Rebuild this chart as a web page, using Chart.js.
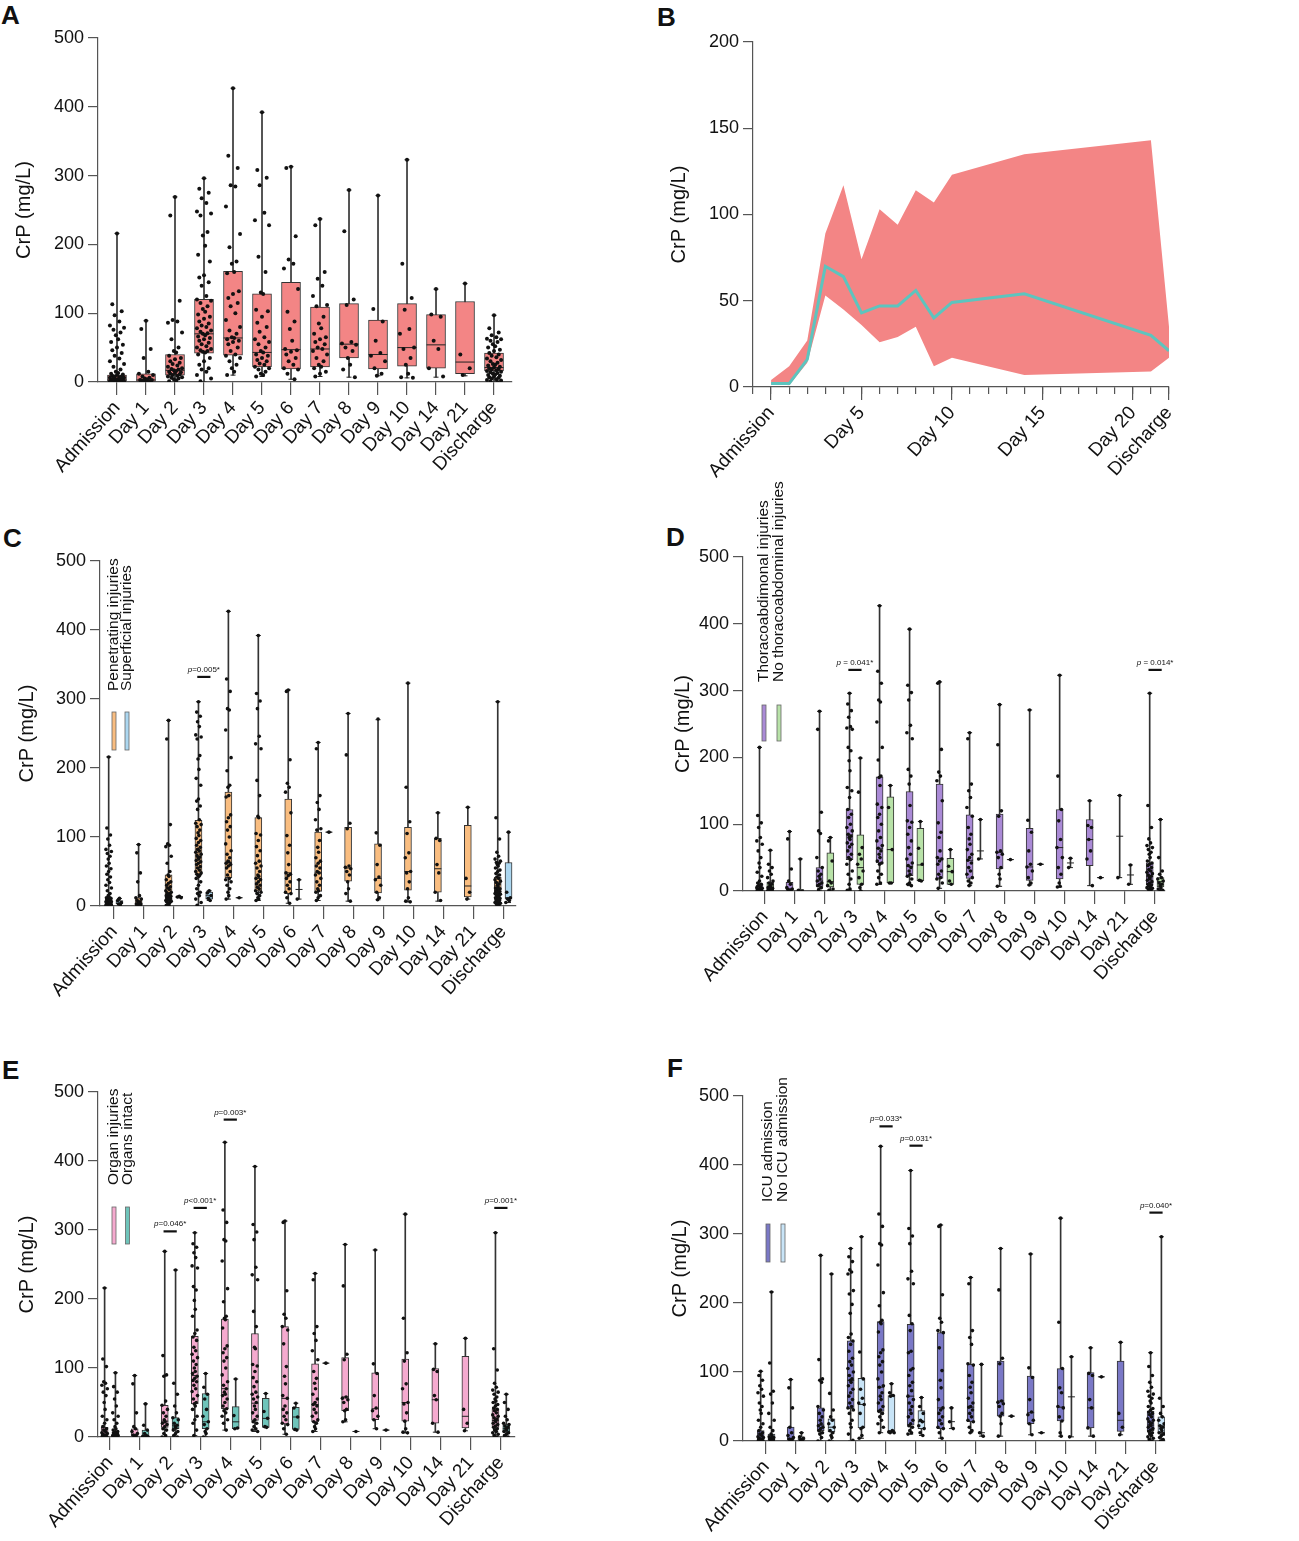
<!DOCTYPE html>
<html>
<head>
<meta charset="utf-8">
<script src="https://cdn.jsdelivr.net/npm/chart.js@4.4.0/dist/chart.umd.min.js"></script>
<style>
  body { margin: 0; background: #fff; width: 1299px; height: 1541px; position: relative; overflow: hidden; font-family: 'Liberation Sans', Arial, sans-serif; }
  canvas { position: absolute; }
  .tag { position: absolute; font-weight: bold; font-size: 26px; line-height: 26px; color: #111; }
</style>
</head>
<body>
<div class="tag" style="left:1px;top:2px">A</div>
<div class="tag" style="left:657px;top:4px">B</div>
<div class="tag" style="left:3px;top:525px">C</div>
<div class="tag" style="left:666px;top:524px">D</div>
<div class="tag" style="left:2px;top:1057px">E</div>
<div class="tag" style="left:667px;top:1055px">F</div>

<canvas id="pA" width="650" height="500" style="left:0;top:0"></canvas>
<canvas id="pB" width="649" height="500" style="left:650px;top:0"></canvas>
<canvas id="pC" width="650" height="510" style="left:0;top:510px"></canvas>
<canvas id="pD" width="649" height="540" style="left:650px;top:480px"></canvas>
<canvas id="pE" width="650" height="491" style="left:0;top:1050px"></canvas>
<canvas id="pF" width="649" height="491" style="left:650px;top:1050px"></canvas>

<script>
// Catégories communes
const categories = ["Admission", "Day 1", "Day 2", "Day 3", "Day 4", "Day 5", "Day 6", "Day 7", "Day 8", "Day 9", "Day 10", "Day 14", "Day 21", "Discharge"];

// Panneau A : boîtes [min, q1, médiane, q3, max] et points
const aBox = [[0,1,3,10,216],[0,1,3,12,89],[0,10,17,40,269],[0,42,70,120,296],[10,39,64,161,427],[8,22,43,128,392],[4,19,47,145,313],[8,22,48,109,237],[7,35,55,114,279],[9,19,40,90,271],[6,23,50,114,323],[7,20,54,98,135],[9,12,29,117,143],[0,16,21,42,97]];
const aDots = [
  [216,113,103,97,88,82,79,76,72,68,62,58,54,50,46,42,38,34,30,26,22,18,15,13,12,11,10,9,8,8,7,6,6,5,5,4,4,3,3,3,2,2,2,1,1,1,1,0,0,0,0],
  [89,77,48,35,15,12,10,8,6,5,4,3,3,2,2,1,1,0],
  [269,242,118,90,88,86,72,62,50,45,43,38,35,33,30,28,26,24,22,20,19,18,17,16,15,14,13,12,11,10,9,8,7,6,5,4,2,1],
  [296,281,275,267,260,248,245,242,218,213,198,185,175,155,152,145,140,125,120,118,115,110,106,102,98,95,92,88,85,82,80,78,75,73,71,70,68,66,64,62,60,57,55,52,50,48,46,45,44,43,40,35,30,25,20,18,15,10,5,1],
  [427,329,311,286,284,255,215,196,175,172,160,158,132,128,122,115,110,100,90,80,75,70,65,64,62,60,58,55,50,45,40,38,35,30,25,20,15,10],
  [392,308,297,286,246,235,228,182,160,130,128,105,103,95,86,80,73,65,62,58,55,50,45,43,40,38,35,32,30,27,25,22,20,18,15,12,10,8],
  [313,311,212,178,172,165,135,102,88,77,60,48,46,44,40,35,30,25,20,18,12,4],
  [237,228,160,150,140,125,112,110,95,85,78,70,65,62,58,55,50,48,45,40,35,30,25,22,20,15,12,8],
  [279,219,120,112,58,56,54,50,45,35,25,18,7],
  [271,106,88,60,42,38,30,20,12,9],
  [323,172,122,105,77,70,50,48,35,25,12,7,6],
  [135,98,95,60,48,20,8],
  [143,40,20,10],
  [97,78,72,68,65,63,62,60,58,55,52,50,47,45,42,40,38,36,34,32,30,28,26,25,24,22,21,20,19,18,17,16,15,14,13,12,11,10,9,8,7,6,5,4,3,2,1,0]
];

// Panneau B : médiane et intervalle
const bDays = [0, 1, 2, 3, 4, 5, 6, 7, 8, 9, 10, 14, 21, 22];
const bMedian = [2, 2, 16, 70, 64, 43, 47, 47, 56, 40, 49, 54, 30, 21];
const bUpper = [4, 12, 27, 89, 117, 74, 103, 94, 114, 107, 123, 135, 143, 35];
const bLower = [2, 1, 14, 53, 45, 36, 26, 29, 35, 12, 17, 7, 9, 17];
const bTicks = [0, 5, 10, 15, 20, 22];
const bTickLabels = ["Admission", "Day 5", "Day 10", "Day 15", "Day 20", "Discharge"];

// Panneau C : lésions pénétrantes / superficielles
const cBox1 = [[0,0,3,12,216],[0,0,3,12,89],[0,5,15,45,269],[0,45,77,124,296],[10,41,63,165,427],[8,22,40,128,392],[4,18,48,155,313],[8,21,48,107,237],[7,36,55,114,279],[9,19,40,90,270],[6,23,50,114,323],[7,20,54,98,135],[10,13,29,117,143],[0,16,21,42,296]];
const cDischarge1 = [296,128,97,78,72,68,65,63,62,60,58,55,52,50,47,45,42,40,38,36,34,32,30,28,26,25,24,22,21,20,19,18,17,16,15,14,13,12,11,10,9,8,7,6,5,4,3,2,1,0];
const cDots1 = aDots.slice(0, 13).concat([cDischarge1]);
const cBox2 = [[2,3,4,8,11],null,[12,12,13,14,14],[8,10,15,20,22],[12,12,12,12,12],null,[10,24,24,24,38],[107,107,107,107,107],null,null,null,null,null,[5,10,12,63,107]];
const cDots2 = [[11,8,5,3,2],[],[14,13,12],[22,19,15,11,8],[12],[],[38,10],[107],[],[],[],[],[],[107,20,12,10,8,5]];

// Panneau D : lésions thoraco-abdominales
const dBox1 = [[0,0,2,9,215],[0,0,3,13,89],[0,7,15,35,269],[1,47,84,122,296],[10,42,64,171,427],[8,23,37,149,392],[4,19,49,160,313],[8,19,46,114,237],[7,33,58,115,279],[9,16,36,94,271],[6,18,65,122,323],[8,38,77,107,135],[20,82,82,82,143],[0,9,22,42,296]];
const dDots1 = [
  [215,113,102,95,80,75,70,60,50,42,35,28,22,15,12,10,8,6,5,4,3,2,2,1,1,0,0,0],
  [89,78,33,15,10,5,3,2,1,0],
  [269,242,118,90,86,50,35,30,25,22,18,15,12,10,8,5,2],
  [296,280,270,260,246,244,242,215,210,195,180,155,150,140,122,115,110,100,95,90,85,82,80,77,72,70,66,60,55,50,47,40,30,25,18,10,3,1],
  [427,329,311,286,283,253,215,196,172,170,158,130,125,115,110,100,90,80,75,68,64,60,55,50,45,42,40,30,25,20,12,10],
  [392,308,297,286,248,237,228,182,172,160,128,105,103,95,85,75,65,55,48,42,38,35,30,25,22,18,12,10,8],
  [313,311,212,178,172,165,135,102,88,80,60,50,48,45,40,30,25,20,18,12,4],
  [237,228,160,150,140,125,112,95,85,78,70,62,55,50,46,42,35,30,25,20,15,12,8],
  [279,219,120,112,60,58,55,50,35,25,18,7],
  [271,106,88,60,40,36,30,20,12,9],
  [323,172,122,105,77,65,50,35,25,12,7,6],
  [135,98,95,77,60,48,8],
  [143,20],
  [296,128,95,78,72,68,65,62,58,55,50,45,42,40,38,35,32,30,28,26,24,22,20,18,16,14,12,10,9,8,6,5,4,3,2,1,0]
];
const dBox2 = [[0,0,4,13,61],[0,0,1,2,48],[1,6,14,57,80],[0,10,35,84,199],[12,12,62,141,158],[15,15,39,94,104],[10,10,29,49,62],[48,60,60,60,107],[47,47,47,47,47],[40,40,40,40,40],[35,42,42,42,49],[20,20,20,20,20],[10,24,24,24,39],[0,6,14,20,107]];
const dDots2 = [[61,40,35,30,25,20,15,12,10,8,6,5,4,3,2,1,1,0,0],[48,1,0],[80,75,45,15,12,8,3,1],[199,148,65,55,48,40,30,20,10,5,0],[158,125,62,12,12],[104,64,40,16,15],[62,37,29,15,10],[107,48],[47],[40],[49,35],[20],[39,10],[107,50,30,25,20,18,15,12,10,8,5,3,1,0]];

// Panneau E : lésions d'organes
const eBox1 = [[0,0,3,14,216],[0,0,3,12,89],[0,14,23,46,269],[2,48,89,146,296],[10,41,70,171,427],[8,24,49,150,392],[4,19,56,160,313],[8,22,47,106,237],[22,38,58,115,279],[12,25,41,93,271],[6,23,50,113,323],[7,20,54,99,135],[9,13,30,117,143],[0,14,24,41,296]];
const eDots1 = [
  [216,113,102,80,78,75,70,65,60,50,40,30,25,20,15,12,10,8,6,5,4,3,2,1,1,0,0],
  [89,77,35,15,12,8,5,3,2,1,0],
  [269,118,90,88,52,46,40,35,30,25,22,20,18,15,12,10,5,2,0],
  [296,280,275,267,260,248,245,218,213,198,185,175,155,150,145,140,130,125,120,115,110,105,100,95,92,88,85,82,80,75,70,66,60,55,50,48,45,40,30,25,20,10,2],
  [427,329,311,286,284,255,215,196,175,172,170,158,132,128,122,115,110,100,90,80,75,70,65,62,60,55,50,45,41,38,35,30,25,20,10],
  [392,308,297,286,246,235,228,182,160,130,128,105,103,95,86,80,73,65,62,58,55,50,45,40,35,30,25,22,20,15,12,10,8],
  [313,311,212,178,172,160,155,135,102,88,77,60,56,45,40,35,30,25,20,18,12,4],
  [237,228,160,150,140,125,112,95,85,78,70,62,55,50,47,45,40,35,30,25,22,20,15,12,8],
  [279,219,120,112,58,56,54,50,40,38,25,22],
  [271,106,92,60,42,38,30,25,12],
  [323,172,122,110,77,70,50,48,35,23,12,7,6],
  [135,98,95,60,54,20,7],
  [143,40,20,9],
  [296,128,97,78,72,68,65,62,58,55,52,50,47,45,42,40,38,35,32,30,28,26,24,22,20,18,16,14,12,10,8,6,4,2,0]
];
const eBox2 = [[0,0,2,7,93],[0,0,2,10,48],[0,12,17,28,242],[0,12,22,63,92],[12,12,22,44,84],[14,14,27,56,63],[10,11,29,43,49],[107,107,107,107,107],[8,8,8,8,8],[10,10,10,10,10],null,null,null,[0,7,12,18,62]];
const eDots2 = [[93,73,65,55,45,35,30,25,20,15,12,10,8,7,6,5,4,3,2,2,1,1,0,0],[48,17,10,5,2,1,0,0],[242,78,62,45,35,28,25,20,17,15,13,10,8,5,2,0],[92,72,62,55,40,30,22,18,12,8,5,0],[84,31,13,12],[63,37,27,15,14],[49,42,29,11,10],[107],[8],[10],[],[],[],[62,50,40,30,25,20,18,16,14,12,10,8,6,4,2,0]];

// Panneau F : admission en réanimation
const fBox1 = [[0,0,3,15,101],[0,0,3,20,89],[0,15,23,48,269],[0,47,88,145,279],[12,43,78,173,427],[10,23,65,169,392],[4,18,48,157,313],[12,28,49,111,237],[7,36,58,116,279],[9,25,41,94,271],[7,29,49,105,323],[7,19,48,99,135],[9,14,30,116,143],[0,15,23,43,128]];
const fDots1 = [
  [101,95,88,80,75,70,65,55,50,45,40,30,25,20,15,12,10,8,6,5,4,3,2,1,1,0,0],
  [89,77,48,20,12,8,5,3,2,1,0],
  [269,118,90,88,85,50,45,40,35,30,25,22,20,18,15,12,10,5,0],
  [279,267,260,248,245,242,218,213,198,185,155,150,145,140,130,120,115,110,105,100,95,90,88,85,80,75,70,65,60,55,50,48,45,40,30,25,20,10,1],
  [427,329,311,286,284,255,215,196,175,172,170,158,132,128,122,115,110,100,90,80,78,70,65,60,55,50,45,43,40,35,30,25,20,12],
  [392,308,297,286,246,235,228,182,170,160,130,128,105,103,95,85,80,73,65,60,55,50,45,40,35,30,25,22,20,15,12,10],
  [313,311,212,178,172,160,157,135,102,88,77,60,48,45,40,35,30,25,20,18,12,4],
  [237,228,160,150,140,112,110,95,85,78,70,62,55,50,49,45,40,35,30,28,20,15,12],
  [279,219,120,112,58,56,54,50,40,36,25,7],
  [271,106,92,60,42,38,30,25,9],
  [323,172,105,77,70,50,48,35,29,12,7],
  [135,98,95,60,48,19,7],
  [143,40,20,9],
  [128,108,95,85,78,72,68,65,62,58,55,50,47,45,42,40,38,35,32,30,28,26,24,22,20,18,16,14,12,10,8,6,4,2,0]
];
const fBox2 = [[0,0,2,10,216],[1,1,3,6,12],[0,13,20,32,242],[4,19,53,91,296],[12,13,15,66,83],[8,18,28,44,63],[18,28,28,28,48],[7,12,12,12,111],[36,36,36,36,36],[12,12,12,12,12],[6,64,64,64,122],[93,93,93,93,93],null,[0,12,22,35,296]];
const fDots2 = [[216,113,72,68,55,40,30,20,15,10,8,6,5,4,3,2,1,0],[12,6,4,2,1],[242,69,45,35,30,25,20,15,12,8,5,0],[296,129,90,75,62,55,53,40,20,18,8,4],[83,70,66,65,15,13,12,12],[63,50,40,30,28,22,18,12,8],[48,28,18],[111,12,7],[36],[12],[122,6],[93],[],[296,62,50,40,35,30,25,22,20,18,15,12,10,8,5,2,0]];

// Décalage horizontal des points (disposition seulement)
const jitter = [0, -0.6, 0.6, -0.3, 0.3, -0.9, 0.9, -0.45, 0.45, -0.15, 0.15, -0.75, 0.75];

Chart.defaults.font.family = "'Liberation Sans', Arial, sans-serif";
Chart.defaults.color = "#111";

// Annotations : valeurs p et légende verticale
const notesPlugin = {
  id: "notes",
  afterDatasetsDraw(chart, args, opts) {
    const { ctx, chartArea } = chart;
    const x = chart.scales.x, y = chart.scales.y;
    ctx.save();
    (opts.pvalues || []).forEach((p) => {
      const x1 = x.getPixelForValue(p.at - 0.22);
      const x2 = x.getPixelForValue(p.at + 0.22);
      const py = y.getPixelForValue(p.y);
      ctx.strokeStyle = "#111";
      ctx.lineWidth = 2.2;
      ctx.beginPath();
      ctx.moveTo(x1, py);
      ctx.lineTo(x2, py);
      ctx.stroke();
      ctx.fillStyle = "#111";
      ctx.textBaseline = "alphabetic";
      ctx.textAlign = "left";
      ctx.font = "italic 8px 'Liberation Sans', Arial";
      const w1 = ctx.measureText("p").width;
      ctx.font = "8px 'Liberation Sans', Arial";
      const w2 = ctx.measureText(p.text).width;
      const start = (x1 + x2) / 2 - (w1 + w2) / 2;
      ctx.font = "italic 8px 'Liberation Sans', Arial";
      ctx.fillText("p", start, py - 5);
      ctx.font = "8px 'Liberation Sans', Arial";
      ctx.fillText(p.text, start + w1, py - 5);
    });
    const lg = opts.legend;
    if (lg) {
      lg.items.forEach((it, k) => {
        const cx = chartArea.left + lg.dx + k * lg.gap;
        ctx.save();
        ctx.translate(cx, chartArea.top + lg.textBottom);
        ctx.rotate(-Math.PI / 2);
        ctx.font = "15.5px 'Liberation Sans', Arial";
        ctx.fillStyle = "#111";
        ctx.textAlign = "left";
        ctx.textBaseline = "middle";
        ctx.fillText(it.label, 0, 0);
        ctx.restore();
        ctx.fillStyle = it.color;
        ctx.fillRect(cx - 2, chartArea.top + lg.swTop, 4, lg.swH);
        ctx.strokeStyle = "#666";
        ctx.lineWidth = 0.8;
        ctx.strokeRect(cx - 2, chartArea.top + lg.swTop, 4, lg.swH);
      });
    }
    ctx.restore();
  },
};

// Jeux de données d'une boîte à moustaches avec points
function boxSets(box, dots, shift, color, boxW, spread, dotR) {
  const rows = box.map((b, i) => (b ? { i, b } : null)).filter(Boolean);
  const pts = [];
  dots.forEach((list, i) =>
    list.forEach((v, k) => pts.push({ x: i + shift + jitter[k % jitter.length] * spread, y: v }))
  );
  const common = { grouped: false, categoryPercentage: 1, barPercentage: 1 };
  return [
    Object.assign({ type: "bar", data: rows.map((r) => ({ x: r.i + shift, y: [r.b[0], r.b[4]] })), backgroundColor: "#333", maxBarThickness: 1, order: 5 }, common),
    Object.assign({ type: "bar", data: rows.map((r) => ({ x: r.i + shift, y: [r.b[1], r.b[3]] })), backgroundColor: color, borderColor: "#333", borderWidth: 1, borderSkipped: false, maxBarThickness: boxW, order: 4 }, common),
    { type: "scatter", data: rows.map((r) => ({ x: r.i + shift, y: r.b[2] })), pointStyle: "line", pointRadius: boxW / 2, pointBorderColor: "#222", pointBorderWidth: 1, order: 3 },
    { type: "scatter", data: rows.flatMap((r) => [{ x: r.i + shift, y: r.b[0] }, { x: r.i + shift, y: r.b[4] }]), pointStyle: "line", pointRadius: 2.5, pointBorderColor: "#222", pointBorderWidth: 1, order: 3 },
    { type: "scatter", data: pts, pointRadius: dotR, pointBackgroundColor: "#111", pointBorderWidth: 0, order: 1 },
  ];
}

function yAxis(width, max, step, titlePad) {
  return {
    min: 0, max,
    ticks: { stepSize: step, font: { size: 18 }, color: "#111", padding: 4 },
    grid: { drawOnChartArea: false, tickLength: 10, color: "#555", lineWidth: 1.2 },
    border: { color: "#555", width: 1.2 },
    title: { display: true, text: "CrP (mg/L)", font: { size: 20 }, color: "#111", padding: { top: titlePad, bottom: 0 } },
    afterFit: (s) => { s.width = width; },
  };
}

function catAxis(min, max, height) {
  return {
    type: "linear", min, max, offset: false,
    afterBuildTicks: (s) => { s.ticks = categories.map((c, i) => ({ value: i })); },
    ticks: { autoSkip: false, minRotation: 48, maxRotation: 48, font: { size: 19 }, color: "#111", padding: 2, callback: (v) => categories[v] },
    grid: { drawOnChartArea: false, offset: false, tickLength: 13, color: "#555", lineWidth: 1.2 },
    border: { color: "#555", width: 1.2 },
    afterFit: (s) => { s.height = height; },
  };
}

function boxChart(id, o) {
  const datasets = [];
  o.groups.forEach((g, k) => datasets.push(...boxSets(g.box, g.dots, o.shifts[k], g.color, o.boxW, o.spread, o.dotR)));
  return new Chart(document.getElementById(id), {
    type: "bar",
    data: { datasets },
    options: {
      responsive: false, animation: false, events: [],
      layout: { padding: { left: 0, top: o.top, right: o.right, bottom: 0 } },
      plugins: { legend: { display: false }, tooltip: { enabled: false }, notes: { pvalues: o.pvalues || [], legend: o.legend } },
      scales: { x: catAxis(o.xMin, o.xMax, o.xH), y: yAxis(o.yW, 500, 100, o.titlePad) },
    },
    plugins: [notesPlugin],
  });
}

// A
boxChart("pA", {
  groups: [{ box: aBox, dots: aDots, color: "#F38585" }], shifts: [0], boxW: 19, spread: 0.27, dotR: 2,
  top: 38, right: 138, yW: 98, xH: 118, xMin: -0.655, xMax: 13.62, titlePad: 12.5,
});

// B
new Chart(document.getElementById("pB"), {
  type: "line",
  data: {
    datasets: [
      { data: bDays.map((d, i) => ({ x: d, y: bLower[i] })), borderWidth: 0, pointRadius: 0, fill: false, order: 3 },
      { data: bDays.map((d, i) => ({ x: d, y: bUpper[i] })), borderWidth: 0, pointRadius: 0, backgroundColor: "#F38585", fill: "-1", order: 2 },
      { data: bDays.map((d, i) => ({ x: d, y: bMedian[i] })), borderColor: "#5DC4BE", borderWidth: 3, pointRadius: 0, fill: false, order: 1 },
    ],
  },
  options: {
    responsive: false, animation: false, events: [],
    layout: { padding: { left: 0, top: 42, right: 130, bottom: 0 } },
    plugins: { legend: { display: false }, tooltip: { enabled: false } },
    scales: {
      x: {
        type: "linear", min: -1, max: 22, weight: 0,
        ticks: { display: false, stepSize: 1 },
        grid: { drawOnChartArea: false, tickLength: 7, color: "#555", lineWidth: 1.2 },
        border: { color: "#555", width: 1.2 },
        afterFit: (s) => { s.height = 0; },
      },
      x2: {
        type: "linear", position: "bottom", min: -1, max: 22, weight: 1,
        afterBuildTicks: (s) => { s.ticks = bTicks.map((v) => ({ value: v })); },
        ticks: { autoSkip: false, minRotation: 48, maxRotation: 48, font: { size: 19 }, color: "#111", padding: 2, callback: (v) => bTickLabels[bTicks.indexOf(v)] },
        grid: { drawOnChartArea: false, tickLength: 13, color: "#555", lineWidth: 1.2 },
        border: { display: false },
        afterFit: (s) => { s.height = 113; },
      },
      y: yAxis(103, 200, 50, 17.5),
    },
  },
});

// C
boxChart("pC", {
  groups: [{ box: cBox1, dots: cDots1, color: "#F9BD80" }, { box: cBox2, dots: cDots2, color: "#ACD7F0" }],
  shifts: [-0.18, 0.18], boxW: 7, spread: 0.1, dotR: 1.8,
  top: 51, right: 134, yW: 100, xH: 114, xMin: -0.47, xMax: 13.43, titlePad: 15.5,
  pvalues: [{ at: 3, y: 332, text: "=0.005*" }],
  legend: { dx: 14, gap: 13, textBottom: 130, swTop: 151, swH: 38, items: [{ label: "Penetrating injuries", color: "#F9BD80" }, { label: "Superficial injuries", color: "#ACD7F0" }] },
});

// D
boxChart("pD", {
  groups: [{ box: dBox1, dots: dDots1, color: "#AA8AD6" }, { box: dBox2, dots: dDots2, color: "#B8E2A8" }],
  shifts: [-0.18, 0.18], boxW: 7, spread: 0.1, dotR: 1.8,
  top: 77, right: 134, yW: 93, xH: 129, xMin: -0.73, xMax: 13.33, titlePad: 21.5,
  pvalues: [{ at: 3, y: 331, text: " = 0.041*" }, { at: 13, y: 331, text: " = 0.014*" }],
  legend: { dx: 21, gap: 15, textBottom: 125, swTop: 148, swH: 36, items: [{ label: "Thoracoabdimonal injuries", color: "#AA8AD6" }, { label: "No thoracoabdominal injuries", color: "#B8E2A8" }] },
});

// E
boxChart("pE", {
  groups: [{ box: eBox1, dots: eDots1, color: "#F5AACF" }, { box: eBox2, dots: eDots2, color: "#6EC4BA" }],
  shifts: [-0.18, 0.18], boxW: 7, spread: 0.1, dotR: 1.8,
  top: 42, right: 135, yW: 98, xH: 104, xMin: -0.4, xMax: 13.47, titlePad: 15.5,
  pvalues: [{ at: 2, y: 298, text: "=0.046*" }, { at: 3, y: 332, text: "<0.001*" }, { at: 4, y: 460, text: "=0.003*" }, { at: 13, y: 332, text: "=0.001*" }],
  legend: { dx: 16, gap: 13.5, textBottom: 93, swTop: 115, swH: 37, items: [{ label: "Organ injuries", color: "#F5AACF" }, { label: "Organs intact", color: "#6EC4BA" }] },
});

// F
boxChart("pF", {
  groups: [{ box: fBox1, dots: fDots1, color: "#7A78C6" }, { box: fBox2, dots: fDots2, color: "#C8E4F7" }],
  shifts: [-0.18, 0.18], boxW: 7, spread: 0.1, dotR: 1.8,
  top: 46, right: 134, yW: 93, xH: 100, xMin: -0.77, xMax: 13.3, titlePad: 18,
  pvalues: [{ at: 4, y: 456, text: "=0.033*" }, { at: 5, y: 428, text: "=0.031*" }, { at: 13, y: 331, text: "=0.040*" }],
  legend: { dx: 25, gap: 15, textBottom: 106, swTop: 128, swH: 38, items: [{ label: "ICU admission", color: "#7A78C6" }, { label: "No ICU admission", color: "#C8E4F7" }] },
});
</script>
</body>
</html>
